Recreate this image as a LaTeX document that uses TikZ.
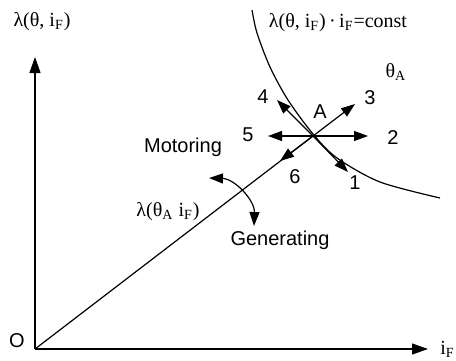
\documentclass[tikz,border=0pt]{standalone}
\usepackage{fontspec}
\setmainfont{Liberation Serif}
\setsansfont{Liberation Sans}
\usetikzlibrary{arrows.meta}
\tikzset{
  axarr/.style={line width=0.6pt, -{Triangle[length=8pt,width=5.5pt]}},
  darr/.style={line width=0.6pt, -{Triangle[length=7pt,width=5pt]}},
  num/.style={font=\fontsize{10}{12}\selectfont\sffamily, inner sep=0pt},
  lbl/.style={font=\fontsize{10}{12}\selectfont, inner sep=0pt}
}
\begin{document}
\begin{tikzpicture}[x=0.5pt, y=-0.5pt,
    twoarr/.style={line width=0.6pt,
      {Triangle[length=7pt,width=5pt]}-{Triangle[length=7pt,width=5pt]}}
  ]
  \useasboundingbox (0,0) rectangle (456,360);
  % axes
  \coordinate (O) at (35,349);
  \coordinate (ytop) at (35,57);
  \coordinate (xend) at (428,349);
  \draw[axarr] (O) -- (ytop);
  \draw[axarr] (O) -- (xend);
  \node[num] (o) at (17,341) {O};
  \node[lbl, anchor=west] (xl) at (440,349) {i\textsubscript{F}};
  \node[lbl] (yl) at (42,22) {λ(θ, i\textsubscript{F})};

  % constant curve
  \draw[line width=0.6pt] plot[smooth] coordinates {(252,10) (257,33) (270,67)
    (288,100) (313,134) (337,158) (380,182) (440,198)};
  \node[lbl] (cst) at (338,23) {λ(θ, i\textsubscript{F})\,·\,i\textsubscript{F}=const};
  \node[lbl] (thA) at (396,72) {θ\textsubscript{A}};

  % operating point
  \coordinate (A) at (313,136);
  \coordinate (t1) at (348,172);
  \coordinate (t2) at (368,136);
  \coordinate (t3) at (355,104);
  \coordinate (t4) at (277,100);
  \coordinate (t5) at (268,136);
  \coordinate (t6) at (280,161);
  \draw[line width=0.6pt] (O) -- (A);
  \foreach \t in {t1,t2,t3,t4,t5,t6}
    \draw[darr] (A) -- (\t);
  \node[num] (a) at (320,112) {A};
  \node[num] (n1) at (355,183) {1};
  \node[num] (n2) at (393,138) {2};
  \node[num] (n3) at (370,98) {3};
  \node[num] (n4) at (263,97) {4};
  \node[num] (n5) at (248,135) {5};
  \node[num] (n6) at (295,177) {6};

  % modes
  \coordinate (m1) at (209,178);
  \coordinate (m2) at (254,226);
  \draw[twoarr] (m1) to[bend left=45] (m2);
  \node[num] (mot) at (183,147) {Motoring};
  \node[num] (gen) at (280,240) {Generating};
  \node[lbl] (lA) at (168,212) {λ(θ\textsubscript{A} i\textsubscript{F})};
\end{tikzpicture}
\end{document}
